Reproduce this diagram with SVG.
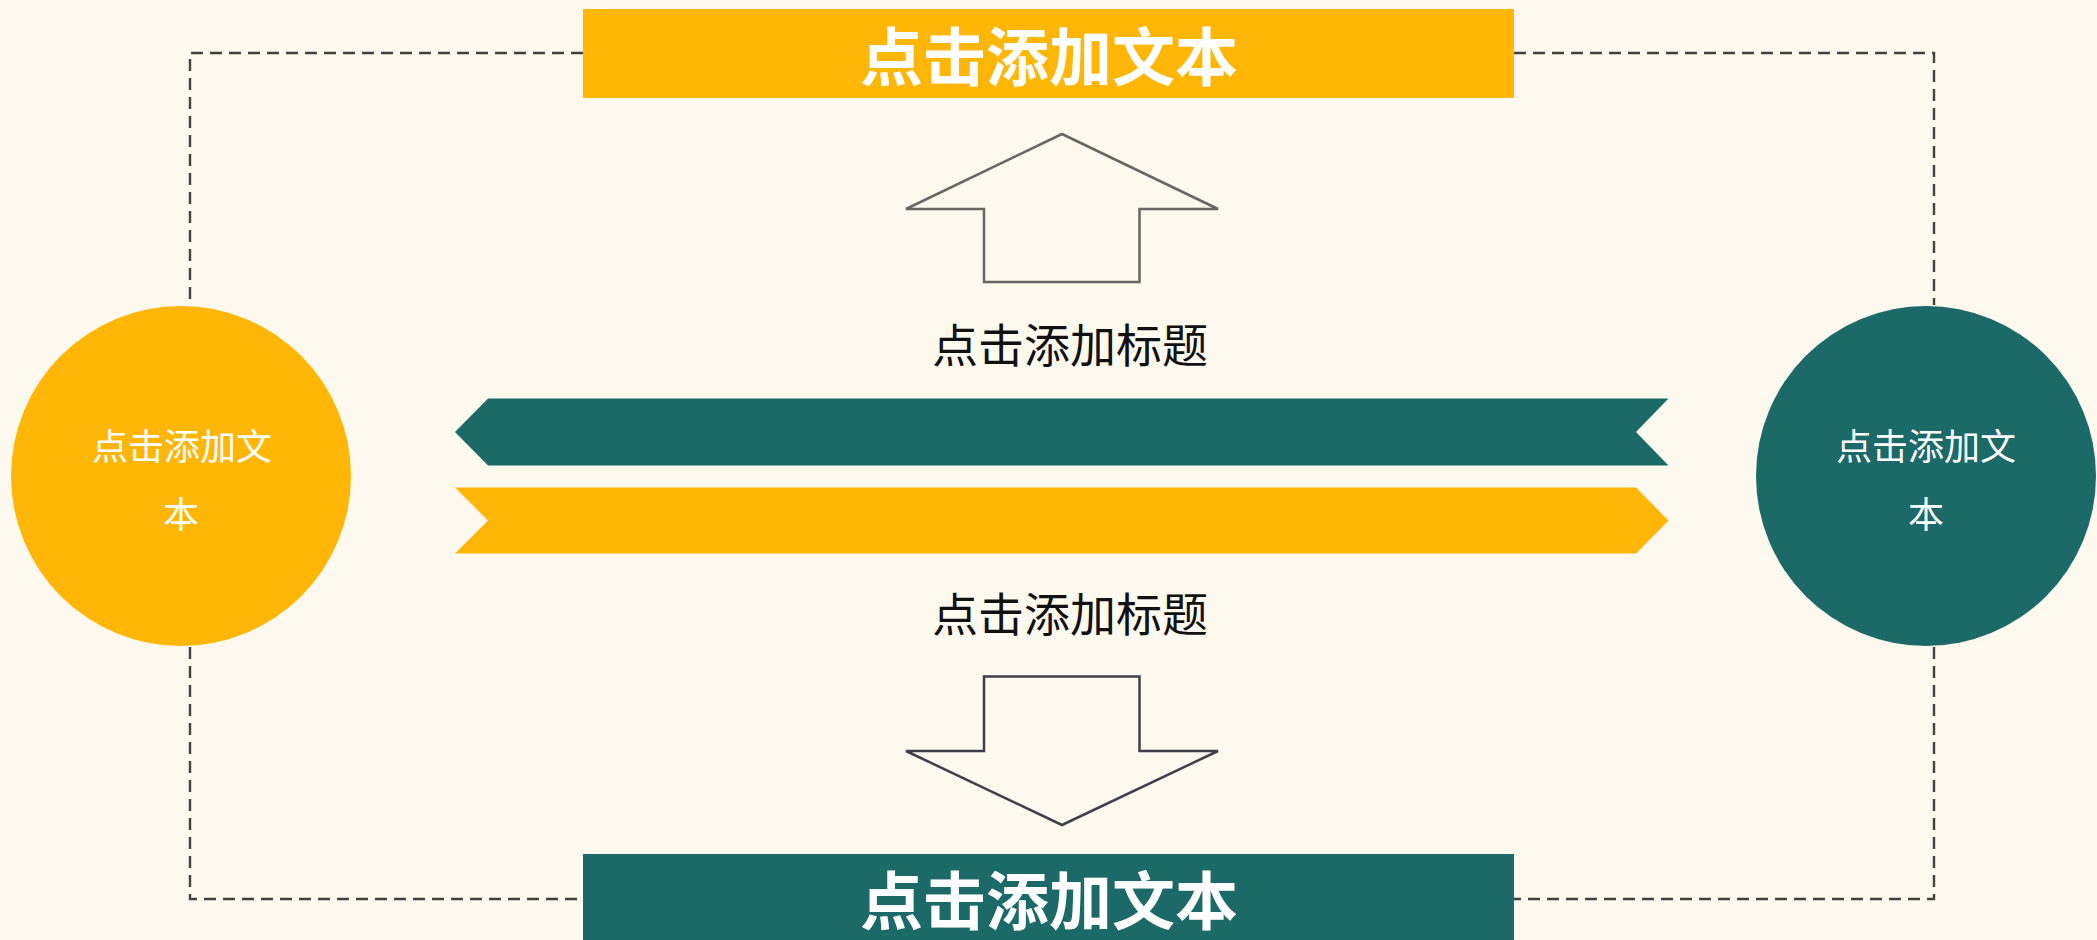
<svg xmlns="http://www.w3.org/2000/svg" width="2097" height="940" viewBox="0 0 2097 940">
  <style>
    .amber { fill: #FFB607; }
    .teal { fill: #1C6A67; }
    .dash { fill: none; stroke: #404040; stroke-width: 2.4; stroke-dasharray: 12 7; }
    .cjk { font-family: "Noto Sans CJK SC", "Noto Sans", sans-serif; text-anchor: middle; }
    .banner { font-size: 63px; font-weight: bold; fill: #FFFFFF; }
    .circ { font-size: 36px; fill: #FFFFFF; }
    .title { font-size: 46px; fill: #111111; }
  </style>
  <rect x="0" y="0" width="2097" height="940" fill="#FDF9EE"/>

  <g id="connectors">
    <polyline class="dash" points="583,53 190,53 190,305"/>
    <polyline class="dash" points="1514,53 1934,53 1934,305"/>
    <polyline class="dash" points="190,647 190,899 583,899"/>
    <polyline class="dash" points="1934,647 1934,899 1514,899"/>
  </g>

  <g id="top-box">
    <rect class="amber" x="583" y="9" width="931" height="89"/>
    <text class="cjk banner" x="1049" y="80">点击添加文本</text>
  </g>

  <g id="bottom-box">
    <rect class="teal" x="583" y="854" width="931" height="86"/>
    <text class="cjk banner" x="1049" y="924">点击添加文本</text>
  </g>

  <g id="left-circle">
    <circle class="amber" cx="181" cy="476" r="170"/>
    <text class="cjk circ" x="182" y="460">点击添加文</text>
    <text class="cjk circ" x="181" y="528">本</text>
  </g>

  <g id="right-circle">
    <circle class="teal" cx="1926" cy="476" r="170"/>
    <text class="cjk circ" x="1926" y="460">点击添加文</text>
    <text class="cjk circ" x="1926" y="528">本</text>
  </g>

  <g id="up-arrow">
    <polygon points="1062,134 1218,209 1139.5,209 1139.5,282 984,282 984,209 906,209" fill="#FDF9EE" stroke="#666666" stroke-width="2.5" stroke-linejoin="miter"/>
  </g>

  <g id="title-top">
    <text class="cjk title" x="1070" y="362">点击添加标题</text>
  </g>

  <g id="teal-band">
    <polygon class="teal" points="455,432 488,398.5 1668.5,398.5 1636,432 1668.5,465.5 488,465.5"/>
  </g>

  <g id="amber-band">
    <polygon class="amber" points="455,487.5 1636,487.5 1668.5,520.5 1636,553.5 455,553.5 488,520.5"/>
  </g>

  <g id="title-bottom">
    <text class="cjk title" x="1070" y="631">点击添加标题</text>
  </g>

  <g id="down-arrow">
    <polygon points="984,676.5 1139.5,676.5 1139.5,751 1218,751 1062,825 906,751 984,751" fill="#FDF9EE" stroke="#3F3F4B" stroke-width="2.5" stroke-linejoin="miter"/>
  </g>
</svg>
